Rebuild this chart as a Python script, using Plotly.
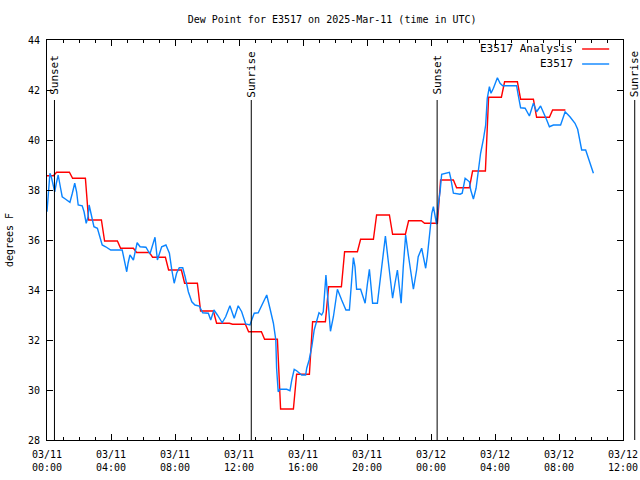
import plotly.graph_objects as go
import pandas as pd

# ---------------- data ----------------
start_time = "2025-03-11 00:00"
end_time = "2025-03-12 12:00"

analysis_name = "E3517 Analysis"
obs_name = "E3517"

# hourly analysis values (hour 0 = 03/11 00:00 UTC)
analysis_values = [38.57, 38.71, 38.47, 36.80, 35.96, 35.67, 35.50, 35.31, 34.80, 34.27,
                   33.16, 32.67, 32.63, 32.33, 32.03, 29.24, 30.63, 32.73, 34.13, 35.53,
                   36.03, 37.00, 36.23, 36.77, 36.67, 38.40, 38.09, 38.76, 41.71, 42.33,
                   41.63, 40.91, 41.20]

# observations: minutes after 03/11 00:00 UTC and dew point (F)
obs_minutes = [0, 4, 11, 16, 24, 29, 35, 42, 51, 57, 70, 86, 95, 104, 111, 117, 132, 139, 147, 154,
               158, 164, 176, 189, 199, 207, 220, 239, 282, 289, 299, 304, 311, 324, 338, 349, 371, 386,
               399, 405, 414, 430, 446, 459, 468, 477, 486, 496, 509, 518, 530, 543, 555, 571, 584, 605,
               614, 626, 639, 657, 670, 686, 702, 717, 730, 745, 761, 770, 777, 792, 811, 824, 836, 849,
               858, 861, 867, 874, 899, 911, 918, 927, 936, 955, 970, 974, 983, 993, 1002, 1011, 1020,
               1030, 1036, 1046, 1054, 1063, 1074, 1089, 1105, 1121, 1134, 1149, 1155, 1161, 1176, 1186,
               1193, 1201, 1209, 1214, 1221, 1239, 1249, 1259, 1269, 1280, 1289, 1296, 1305, 1314, 1321,
               1328, 1336, 1345, 1355, 1368, 1374, 1386, 1392, 1405, 1411, 1420, 1426, 1434, 1443, 1449,
               1458, 1461, 1467, 1474, 1480, 1493, 1509, 1514, 1524, 1549, 1557, 1568, 1576, 1584, 1589,
               1599, 1609, 1617, 1626, 1636, 1645, 1651, 1659, 1665, 1674, 1689, 1699, 1709, 1761, 1767,
               1776, 1793, 1809, 1824, 1836, 1851, 1861, 1874, 1884, 1899, 1926, 1934, 1943, 1961, 1980,
               1990, 1999, 2005, 2020, 2030, 2039, 2049]
obs_values = [37.13, 37.60, 38.67, 38.53, 38.13, 37.93, 38.27, 38.60, 38.07, 37.73, 37.63, 37.51, 37.87,
              38.27, 37.93, 37.40, 37.37, 37.13, 36.67, 36.93, 37.40, 37.07, 36.53, 36.47, 36.13, 35.80,
              35.73, 35.60, 35.60, 35.20, 34.73, 35.07, 35.40, 35.20, 35.89, 35.73, 35.71, 35.44, 35.93,
              36.11, 35.20, 35.73, 35.80, 35.47, 34.80, 34.27, 34.67, 34.89, 34.89, 34.53, 33.93, 33.53,
              33.40, 33.36, 33.09, 33.07, 32.80, 33.20, 33.00, 32.69, 32.93, 33.37, 32.87, 33.37, 33.13,
              32.64, 32.60, 32.87, 33.07, 33.09, 33.53, 33.80, 33.27, 32.67, 32.00, 30.87, 29.93, 30.03,
              30.03, 29.97, 30.40, 30.83, 30.77, 30.60, 30.60, 30.87, 31.20, 31.73, 32.40, 32.80, 33.09,
              33.00, 33.13, 34.60, 33.47, 32.35, 32.93, 34.03, 33.60, 33.20, 33.20, 35.30, 34.93, 34.03,
              34.03, 33.73, 33.47, 34.20, 34.83, 34.27, 33.47, 33.47, 34.40, 35.27, 36.16, 35.13, 34.27,
              33.67, 34.27, 34.80, 34.13, 33.47, 34.93, 36.20, 35.40, 34.47, 34.03, 34.80, 35.33, 35.67,
              35.40, 34.87, 35.33, 36.13, 37.07, 37.33, 36.80, 36.63, 37.40, 37.93, 38.63, 38.67, 38.71,
              38.47, 37.87, 37.83, 37.87, 38.47, 38.40, 38.33, 38.00, 37.64, 38.07, 38.73, 39.47, 40.00,
              40.60, 41.67, 42.13, 41.87, 42.07, 42.49, 42.27, 42.17, 42.17, 41.80, 41.29, 41.27, 40.96,
              41.47, 41.13, 41.36, 41.13, 40.80, 40.53, 40.60, 40.60, 40.87, 41.13, 40.93, 40.67, 40.43,
              39.93, 39.60, 39.60, 39.27, 39.00, 38.67]

sun_labels = ["Sunset", "Sunrise", "Sunset", "Sunrise"]
sun_times = ["2025-03-11 00:28", "2025-03-11 12:46", "2025-03-12 00:23", "2025-03-12 12:44"]

y_range = [28, 44]
# ---------------------------------------

t0 = pd.Timestamp(start_time)
t1 = pd.Timestamp(end_time)
span = (t1 - t0).total_seconds()

# analysis as hourly plateaus with short ramps between them
ax_t, ax_v = [], []
half = pd.Timedelta(minutes=24)
for i, v in enumerate(analysis_values):
    center = t0 + pd.Timedelta(hours=i)
    a = max(center - half, t0)
    ax_t += [a, center + half]
    ax_v += [v, v]

obs_t = [t0 + pd.Timedelta(minutes=m) for m in obs_minutes]

red = "#ff0000"
blue = "#0a84ff"
mono = "DejaVu Sans Mono, Liberation Mono, monospace"
fs = 10

fig = go.Figure()
fig.add_trace(go.Scatter(x=ax_t, y=ax_v, mode="lines", name=analysis_name,
                         line=dict(color=red, width=1.4)))
fig.add_trace(go.Scatter(x=obs_t, y=obs_values, mode="lines", name=obs_name,
                         line=dict(color=blue, width=1.4)))

shapes = []
annotations = []
for lab, ts in zip(sun_labels, sun_times):
    px = (pd.Timestamp(ts) - t0).total_seconds() / span
    shapes.append(dict(type="line", xref="paper", yref="paper", x0=px, x1=px, y0=0, y1=0.85,
                       line=dict(color="black", width=1)))
    annotations.append(dict(text=lab, xref="paper", yref="paper", x=px, y=0.914,
                            xanchor="center", yanchor="middle", textangle=-90, showarrow=False,
                            font=dict(family=mono, size=fs + 1, color="black")))

# custom legend (text left of line sample, as in reference)
for k, (nm, col) in enumerate([(analysis_name, red), (obs_name, blue)]):
    yy = 0.9775 - k * 0.0375
    annotations.append(dict(text=nm, xref="paper", yref="paper", x=0.917, y=yy,
                            xanchor="right", yanchor="middle", showarrow=False,
                            font=dict(family=mono, size=fs + 1, color="black")))
    shapes.append(dict(type="line", xref="paper", yref="paper", x0=0.929, x1=0.976, y0=yy, y1=yy,
                       line=dict(color=col, width=1.4)))

fig.update_layout(
    width=640, height=480,
    margin=dict(l=47, r=17, t=40, b=40, autoexpand=False),
    paper_bgcolor="white", plot_bgcolor="white",
    showlegend=False,
    title=dict(text="Dew Point for E3517 on 2025-Mar-11 (time in UTC)", x=0.519, xanchor="center",
               y=1 - 19 / 480, yanchor="middle", yref="container",
               font=dict(family=mono, size=fs, color="black")),
    shapes=shapes, annotations=annotations,
    font=dict(family=mono, size=fs, color="black"),
)
fig.update_xaxes(type="date", range=[t0, t1], dtick=4 * 3600 * 1000, tick0=t0, automargin=False,
                 tickformat="%m/%d<br>%H:%M", ticks="inside", ticklen=6, tickcolor="black",
                 showline=True, linecolor="black", linewidth=1, mirror="allticks",
                 showgrid=False, zeroline=False, ticklabelstandoff=5,
                 minor=dict(dtick=3600 * 1000, ticks="inside", ticklen=3, tickcolor="black", showgrid=False),
                 tickfont=dict(family=mono, size=fs))
fig.update_yaxes(range=y_range, dtick=2, ticks="inside", ticklen=6, tickcolor="black", automargin=False,
                 showline=True, linecolor="black", linewidth=1, mirror="allticks",
                 showgrid=False, zeroline=False, ticklabelstandoff=4,
                 title=dict(text="degrees F", standoff=12, font=dict(family=mono, size=fs)),
                 tickfont=dict(family=mono, size=fs))

# remove the default page margin so the 640x480 figure fills the window exactly
fig.write_html("out.html", config={"displayModeBar": False},
               post_script="document.body.style.margin='0';document.body.style.overflow='hidden';")
